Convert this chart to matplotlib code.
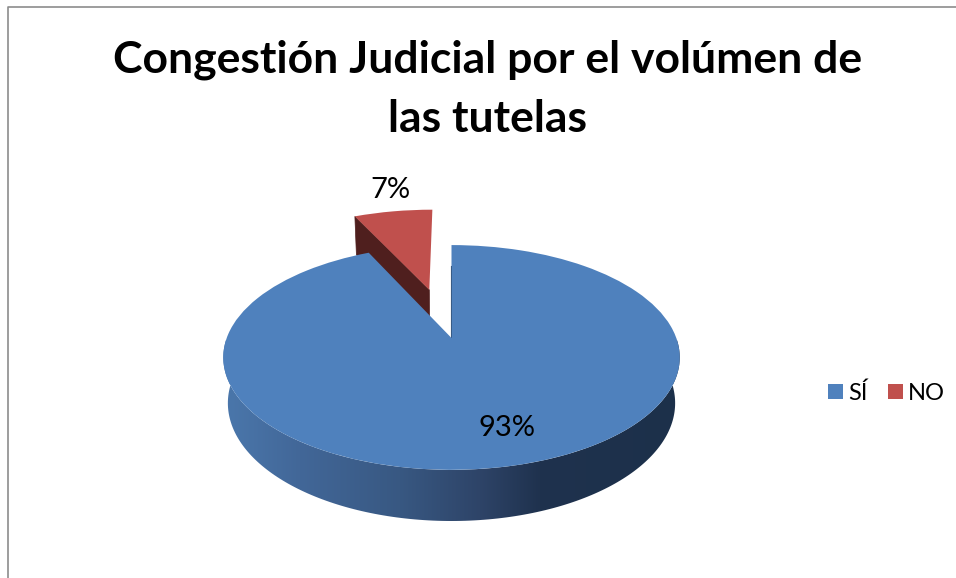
import numpy as np
from matplotlib import pyplot as plt
from matplotlib.patches import Polygon
from matplotlib.path import Path
from matplotlib.transforms import Transform

plt.rcParams['font.family'] = ['Lato', 'DejaVu Sans']

title_lines = ['Congestión Judicial por el volúmen de', 'las tutelas']
categories = ['SÍ', 'NO']
values = [93, 7]
top_colors = ['#4f81bd', '#c0504d']
explode = [0, 0.49]

# camera numbers for the fake 3d pie, worked out from the picture
apex_x, apex_y = 451.5, 338
scale_x, scale_y = 224.8, 109
tilt = 0.173
drop = 46
shrink = 0.02


def project(x, y, z=0):
    w = 1 + tilt * y + shrink * z
    return apex_x + scale_x * x / w, apex_y - (scale_y * y - drop * z) / w


class Perspective(Transform):
    input_dims = output_dims = 2

    def transform_non_affine(self, xy):
        xy = np.asarray(xy)
        return np.column_stack(project(xy[:, 0], xy[:, 1]))

    def transform_path_non_affine(self, path):
        return Path(self.transform_non_affine(path.vertices), path.codes)


fig = plt.figure(figsize=(9.56, 5.78), dpi=100)
ax = fig.add_axes([0, 0, 1, 1])
wedges, _, pct_texts = ax.pie(values, colors=top_colors, explode=explode,
                              startangle=90, counterclock=False,
                              autopct='%d%%')

persp = Perspective() + ax.transData
blue, red = wedges

# red slice: top face and the dark cut face, blue goes over them
red.set_transform(persp)
red.set_zorder(3)
red.set_clip_on(False)
cx, cy = red.center
ang = np.radians(red.theta2)
ex, ey = cx + np.cos(ang), cy + np.sin(ang)
face = [project(cx, cy, 0), project(ex, ey, 0), project(ex, ey, 1), project(cx, cy, 1)]
ax.add_patch(Polygon(face, closed=True, facecolor='#4f1f1e', edgecolor='#4f1f1e',
                     linewidth=0.5, zorder=2))

# blue outer wall: horizontal gradient clipped to the wall outline
angles = np.radians(np.arange(170, 371, 1.0))
upper = np.column_stack(project(np.cos(angles), np.sin(angles), 0))
lower = np.column_stack(project(np.cos(angles), np.sin(angles), 1))
wall = Polygon(np.vstack([upper, lower[::-1]]), closed=True, facecolor='none',
               edgecolor='none')
ax.add_patch(wall)
px = np.arange(220, 691)
shade_x = [230, 300, 400, 480, 540, 680]
shade = np.column_stack([np.interp(px, shade_x, [74, 66, 56, 46, 31, 28]),
                         np.interp(px, shade_x, [118, 103, 88, 68, 50, 48]),
                         np.interp(px, shade_x, [170, 152, 130, 104, 78, 74])]) / 255
img = ax.imshow(shade[np.newaxis, :, :], extent=(220, 690, 530, 340), aspect='auto',
                interpolation='bilinear', zorder=5)
img.set_clip_path(wall)
ax.plot(*zip(project(0, 0), project(0, 0.75)), color='#1f3550', linewidth=0.8, zorder=5)

# blue top face
blue.set_transform(persp)
blue.set_zorder(6)
blue.set_clip_on(False)

ax.set_aspect('auto')
ax.set_xlim(0, 956)
ax.set_ylim(578, 0)

# labels
pct_texts[0].set_position((507, 428))
pct_texts[1].set_position((390, 190))
for t in pct_texts:
    t.set_fontsize(21)
    t.set_color('black')
    t.set_ha('center')
    t.set_va('center')
    t.set_zorder(8)

for line, y in zip(title_lines, [60, 119]):
    ax.text(488, y, line, ha='center', va='center', fontsize=32, fontweight='bold',
            color='black', zorder=8)

ax.legend(wedges, categories, ncol=2, loc='center left',
          bbox_to_anchor=(811 / 956, 1 - 393 / 578), frameon=False, fontsize=17,
          handlelength=0.64, handleheight=0.64, handletextpad=0.22, columnspacing=0.88,
          borderpad=0.2)

# chart area border, only left and top show
ax.plot([8, 8, 956], [578, 7, 7], color='#8c8c8c', linewidth=1.2, zorder=1)

fig.savefig('out.png', dpi=100)
